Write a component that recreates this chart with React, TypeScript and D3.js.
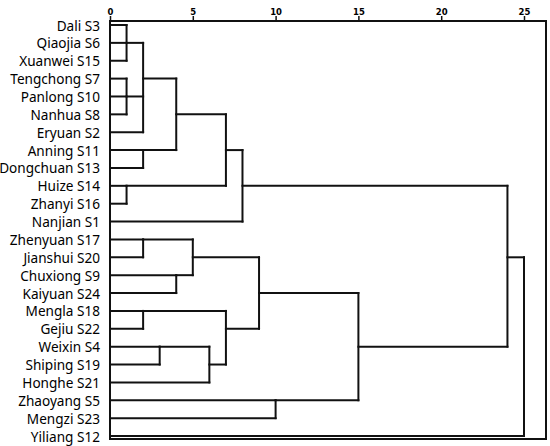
import { useEffect, useRef } from 'react'
import * as d3 from 'd3'

// leaf order top to bottom, as in the dendrogram
const leaves = [
  'Dali S3', 'Qiaojia S6', 'Xuanwei S15', 'Tengchong S7', 'Panlong S10', 'Nanhua S8',
  'Eryuan S2', 'Anning S11', 'Dongchuan S13', 'Huize S14', 'Zhanyi S16', 'Nanjian S1',
  'Zhenyuan S17', 'Jianshui S20', 'Chuxiong S9', 'Kaiyuan S24', 'Mengla S18', 'Gejiu S22',
  'Weixin S4', 'Shiping S19', 'Honghe S21', 'Zhaoyang S5', 'Mengzi S23', 'Yiliang S12'
]

// merges: children (leaf names or earlier merge ids) and rescaled distance
const mergeChildren: string[][] = [
  ['Dali S3', 'Qiaojia S6', 'Xuanwei S15'],
  ['Tengchong S7', 'Panlong S10', 'Nanhua S8'],
  ['m0', 'm1', 'Eryuan S2'],
  ['Anning S11', 'Dongchuan S13'],
  ['m2', 'm3'],
  ['Huize S14', 'Zhanyi S16'],
  ['m4', 'm5'],
  ['m6', 'Nanjian S1'],
  ['Zhenyuan S17', 'Jianshui S20'],
  ['Chuxiong S9', 'Kaiyuan S24'],
  ['m8', 'm9'],
  ['Mengla S18', 'Gejiu S22'],
  ['Weixin S4', 'Shiping S19'],
  ['m12', 'Honghe S21'],
  ['m11', 'm13'],
  ['m10', 'm14'],
  ['Zhaoyang S5', 'Mengzi S23'],
  ['m15', 'm16'],
  ['m7', 'm17'],
  ['m18', 'Yiliang S12']
]
const mergeDistances = [1, 1, 2, 2, 4, 1, 7, 8, 2, 4, 5, 2, 3, 6, 7, 9, 10, 15, 24, 25]

const axisTicks = [0, 5, 10, 15, 20, 25]

const W = 550
const H = 446

export default function App() {
  const svgRef = useRef<SVGSVGElement>(null)

  useEffect(() => {
    if (!svgRef.current) return
    const svg = d3.select(svgRef.current)
    svg.selectAll('*').remove()

    const frame = { left: 110, right: 546, top: 21, bottom: 439 }

    const x = d3.scaleLinear().domain([0, 25]).range([frame.left, 524])
    const y = d3.scaleLinear().domain([0, leaves.length - 1]).range([25, 436])

    const stroke = '#111'
    const sw = 2

    // node positions: row + distance
    const pos = new Map<string, { row: number; dist: number }>()
    leaves.forEach((name, i) => pos.set(name, { row: i, dist: 0 }))

    const g = svg.append('g')
      .attr('fill', 'none')
      .attr('stroke', stroke)
      .attr('stroke-width', sw)
      .attr('stroke-linecap', 'square')

    mergeChildren.forEach((children, i) => {
      const d = mergeDistances[i]
      const kids = children.map(c => pos.get(c)!)
      kids.forEach(k => {
        g.append('line')
          .attr('x1', x(k.dist)).attr('x2', x(d))
          .attr('y1', y(k.row)).attr('y2', y(k.row))
      })
      const rows = kids.map(k => k.row)
      const lo = d3.min(rows)!
      const hi = d3.max(rows)!
      g.append('line')
        .attr('x1', x(d)).attr('x2', x(d))
        .attr('y1', y(lo)).attr('y2', y(hi))
      pos.set(`m${i}`, { row: Math.floor((lo + hi) / 2), dist: d })
    })

    // frame
    svg.append('rect')
      .attr('x', frame.left).attr('y', frame.top)
      .attr('width', frame.right - frame.left)
      .attr('height', frame.bottom - frame.top)
      .attr('fill', 'none')
      .attr('stroke', stroke)
      .attr('stroke-width', sw)

    // top axis
    const axis = svg.append('g')
      .attr('transform', `translate(0, ${frame.top})`)
      .call(d3.axisTop(x).tickValues(axisTicks).tickSize(5).tickPadding(1).tickFormat(d3.format('d')))
    axis.select('.domain').remove()
    axis.selectAll('line').attr('stroke', stroke).attr('stroke-width', 1.5)
    axis.selectAll('text')
      .attr('fill', '#000')
      .style('font-family', '"DejaVu Sans", sans-serif')
      .style('font-weight', 'bold')
      .style('font-size', '8.5px')

    // leaf labels
    svg.append('g')
      .selectAll('text')
      .data(leaves)
      .join('text')
      .attr('x', 100)
      .attr('y', (_, i) => y(i))
      .attr('text-anchor', 'end')
      .attr('dominant-baseline', 'central')
      .style('font-family', '"Noto Sans", sans-serif')
      .style('font-size', '13.6px')
      .style('fill', '#000')
      .text(d => d)
  }, [])

  return (
    <svg
      ref={svgRef}
      width={W}
      height={H}
      style={{ position: 'absolute', left: 0, top: 0, background: '#fff' }}
    />
  )
}
